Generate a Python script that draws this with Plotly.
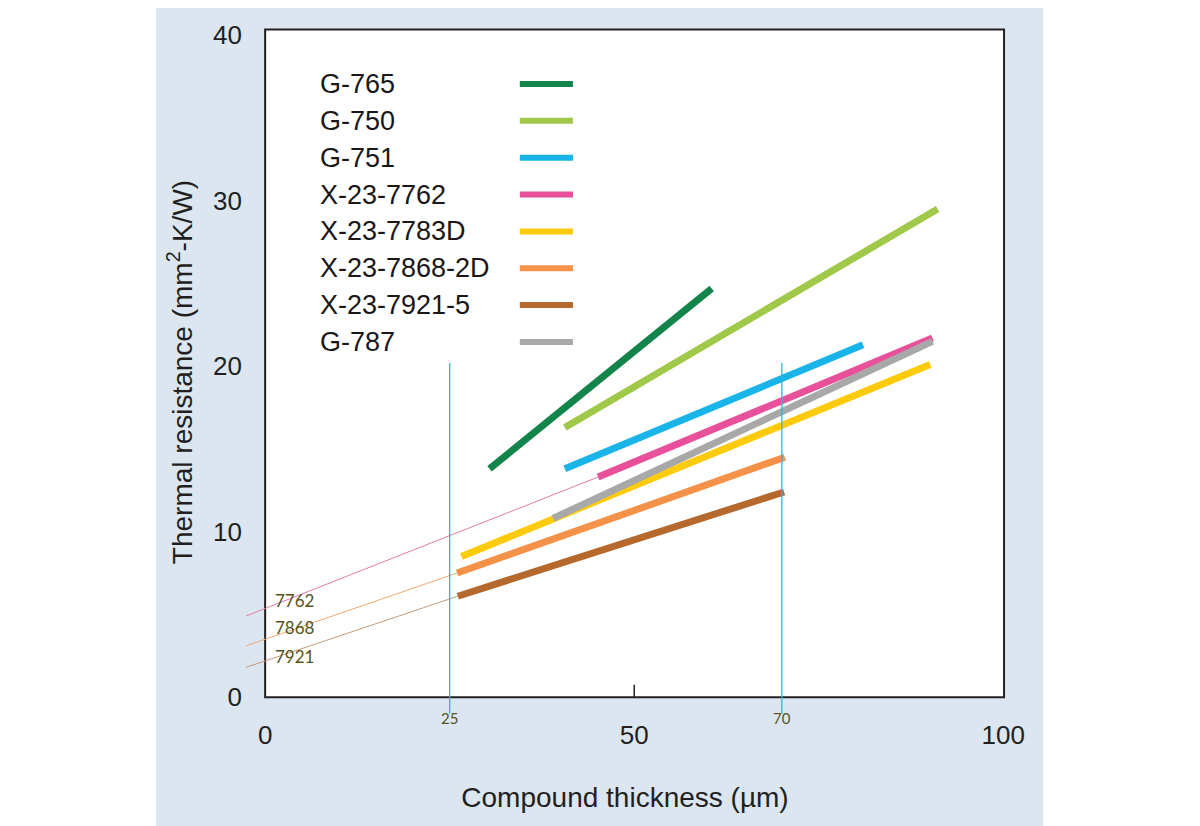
import plotly.graph_objects as go

# product names, colours and end points of each fitted line (thickness um, resistance mm2-K/W)
names = ["G-765", "G-750", "G-751", "X-23-7762", "X-23-7783D", "X-23-7868-2D", "X-23-7921-5", "G-787"]
colors = ["#13854a", "#a0c94a", "#1ab4e8", "#e8519a", "#fdcb0a", "#f5924a", "#b5692d", "#a8a8a8"]
x_start = [30.4, 40.6, 40.6, 45.1, 26.6, 26.0, 26.1, 39.0]
y_start = [13.8, 16.3, 13.8, 13.3, 8.5, 7.5, 6.1, 10.8]
x_end = [60.5, 91.1, 81.0, 90.4, 90.1, 70.4, 70.3, 90.4]
y_end = [24.7, 29.5, 21.3, 21.7, 20.1, 14.5, 12.4, 21.5]

# thin extrapolation lines toward zero thickness
ext_names = ["7762", "7868", "7921"]
ext_colors = ["#e47bab", "#f0a870", "#c49a78"]
ext_x0 = [-2.6, -2.6, -2.6]
ext_y0 = [4.9, 3.1, 1.8]
ext_x1 = [45.1, 26.0, 26.1]
ext_y1 = [13.3, 7.5, 6.1]
ext_label_y = [5.83, 4.2, 2.46]

# marked thicknesses
ref_x = [25, 70]
ref_top = 20.2

x_ticks = [0, 50, 100]
y_ticks = [0, 10, 20, 30, 40]

fig = go.Figure()

for i in range(len(ext_names)):
    fig.add_trace(go.Scatter(
        x=[ext_x0[i], ext_x1[i]], y=[ext_y0[i], ext_y1[i]], mode="lines",
        line=dict(color=ext_colors[i], width=1), showlegend=False, hoverinfo="skip"))

for i in range(len(names)):
    fig.add_trace(go.Scatter(
        x=[x_start[i], x_end[i]], y=[y_start[i], y_end[i]], mode="lines",
        name=names[i], line=dict(color=colors[i], width=7), showlegend=False))

shapes = [
    # light blue panel behind everything
    dict(type="rect", xref="paper", yref="paper", x0=-0.1139, x1=1.047, y0=-0.3, y1=1.2,
         fillcolor="#dbe6f0", line=dict(width=0), layer="below"),
    # white plot box
    dict(type="rect", xref="x", yref="y", x0=0, x1=100.1, y0=0, y1=40.35,
         fillcolor="white", line=dict(color="#231f20", width=2), layer="below"),
    # inward tick at 50
    dict(type="line", xref="x", yref="y", x0=50, x1=50, y0=0, y1=0.75,
         line=dict(color="#231f20", width=1.5)),
]
for rx in ref_x:
    shapes.append(dict(type="line", xref="x", yref="y", x0=rx, x1=rx, y0=-1.0, y1=ref_top,
                       line=dict(color="#2eb6d8", width=1.3), layer="above"))

annotations = []
for rx in ref_x:
    annotations.append(dict(x=rx, y=0, xref="x", yref="paper", yshift=-12, text=str(rx),
                            showarrow=False, font=dict(family="Lato", size=15, color="#56531a")))
for i in range(len(ext_names)):
    annotations.append(dict(x=1.0, y=ext_label_y[i], xref="x", yref="y", xanchor="left",
                            text=ext_names[i], showarrow=False,
                            font=dict(family="Lato", size=17, color="#56531a")))

# legend: name on the left, colour sample on the right
for i in range(len(names)):
    ly = 37.06 - 2.228 * i
    annotations.append(dict(x=7.1, y=ly, xref="x", yref="y", xanchor="left", text=names[i],
                            showarrow=False,
                            font=dict(family="Liberation Sans", size=27, color="#1a1718")))
    shapes.append(dict(type="line", xref="x", yref="y", x0=34.5, x1=41.7, y0=ly, y1=ly,
                       line=dict(color=colors[i], width=6)))

fig.update_layout(
    width=1200, height=826,
    margin=dict(l=235, r=201, t=15, b=117),
    paper_bgcolor="white", plot_bgcolor="rgba(0,0,0,0)",
    font=dict(family="Liberation Sans", size=26, color="#231f20"),
    shapes=shapes, annotations=annotations,
    xaxis=dict(range=[-3, 100.5], tickvals=x_ticks, showgrid=False, zeroline=False,
               showline=False, ticks="", tickfont=dict(size=26),
               title=dict(text="Compound thickness (µm)", font=dict(size=28), standoff=38)),
    yaxis=dict(range=[-1.2, 40.5], tickvals=y_ticks, showgrid=False, zeroline=False,
               showline=False, ticks="", tickfont=dict(size=26),
               title=dict(text="Thermal resistance (mm<sup>2</sup>-K/W)", font=dict(size=28),
                          standoff=12)),
)

fig.write_html("out.html")
